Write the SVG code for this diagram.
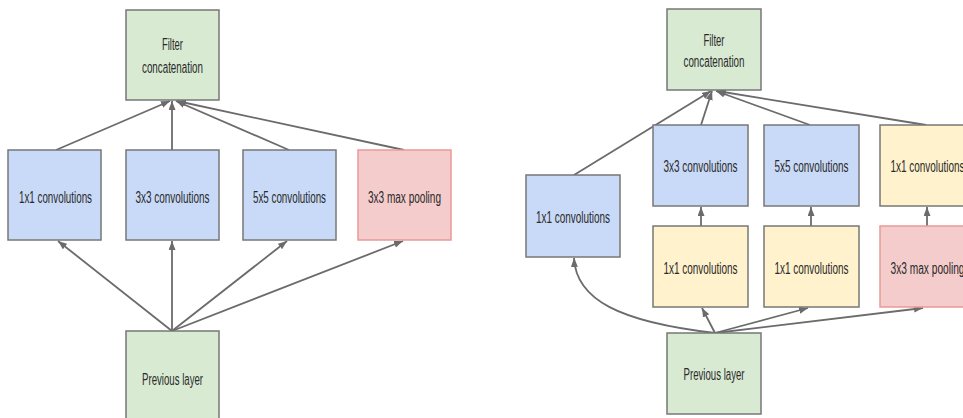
<svg xmlns="http://www.w3.org/2000/svg" width="963" height="418" viewBox="0 0 963 418">
<style>
.box{stroke:#777;stroke-width:1.5}
.g{fill:#d9ead3}.b{fill:#c9daf8}.y{fill:#fff2cc}.p{fill:#f4cccc;stroke:#ea9999}
text{font-family:"Liberation Sans",Arial,sans-serif;font-size:16px;fill:#2a2a2a;text-anchor:middle}
.c path{fill:none;stroke:#6b6b6b;stroke-width:1.8}
</style>
<defs>
<marker id="ah" markerUnits="userSpaceOnUse" markerWidth="10" markerHeight="8" refX="9" refY="3.5" orient="auto">
<path d="M0,0 L9,3.5 L0,7 z" fill="#6b6b6b"/>
</marker>
</defs>
<g class="c">
<path d="M56,150 L170,101" marker-end="url(#ah)"/>
<path d="M172,150 L172,101" marker-end="url(#ah)"/>
<path d="M289,150 L176,101" marker-end="url(#ah)"/>
<path d="M404,150 L177,101" marker-end="url(#ah)"/>
<path d="M172,331 L58,241" marker-end="url(#ah)"/>
<path d="M172,331 L172,241" marker-end="url(#ah)"/>
<path d="M172,331 L287,241" marker-end="url(#ah)"/>
<path d="M172,331 L403,241" marker-end="url(#ah)"/>
<path d="M574,175 L711,91" marker-end="url(#ah)"/>
<path d="M701,125 L712,91" marker-end="url(#ah)"/>
<path d="M810,125 L716,91" marker-end="url(#ah)"/>
<path d="M926,125 L717,91" marker-end="url(#ah)"/>
<path d="M701,226 L701,207" marker-end="url(#ah)"/>
<path d="M811,226 L811,207" marker-end="url(#ah)"/>
<path d="M927,226 L927,207" marker-end="url(#ah)"/>
<path d="M715,333 C620,322 576,300 574,258" marker-end="url(#ah)"/>
<path d="M715,333 L702,308" marker-end="url(#ah)"/>
<path d="M715,333 L808,308" marker-end="url(#ah)"/>
<path d="M715,333 L923,308" marker-end="url(#ah)"/>
</g>
<g id="l-concat"><rect class="box g" x="126" y="10" width="93" height="90"/><text x="172.5" y="50" textLength="21" lengthAdjust="spacingAndGlyphs">Filter</text><text x="172.5" y="73" textLength="61" lengthAdjust="spacingAndGlyphs">concatenation</text></g>
<g id="l-conv1"><rect class="box b" x="8" y="150" width="93" height="90"/><text x="55.5" y="203" textLength="73" lengthAdjust="spacingAndGlyphs">1x1 convolutions</text></g>
<g id="l-conv3"><rect class="box b" x="126" y="150" width="93" height="90"/><text x="172.5" y="203" textLength="74" lengthAdjust="spacingAndGlyphs">3x3 convolutions</text></g>
<g id="l-conv5"><rect class="box b" x="243" y="150" width="93" height="90"/><text x="289.5" y="203" textLength="73" lengthAdjust="spacingAndGlyphs">5x5 convolutions</text></g>
<g id="l-pool"><rect class="box p" x="358" y="150" width="93" height="90"/><text x="404.5" y="203" textLength="73" lengthAdjust="spacingAndGlyphs">3x3 max pooling</text></g>
<g id="l-prev"><rect class="box g" x="126" y="331" width="93" height="95"/><text x="172.5" y="385" textLength="61" lengthAdjust="spacingAndGlyphs">Previous layer</text></g>
<g id="r-concat"><rect class="box g" x="667" y="9" width="94" height="81"/><text x="714" y="46" textLength="21" lengthAdjust="spacingAndGlyphs">Filter</text><text x="714" y="67" textLength="61" lengthAdjust="spacingAndGlyphs">concatenation</text></g>
<g id="r-conv1"><rect class="box b" x="526" y="175" width="94" height="82"/><text x="573" y="223" textLength="74" lengthAdjust="spacingAndGlyphs">1x1 convolutions</text></g>
<g id="r-conv3"><rect class="box b" x="653" y="125" width="95" height="81"/><text x="700.5" y="172" textLength="74" lengthAdjust="spacingAndGlyphs">3x3 convolutions</text></g>
<g id="r-conv5"><rect class="box b" x="764" y="125" width="95" height="81"/><text x="811.5" y="172" textLength="74" lengthAdjust="spacingAndGlyphs">5x5 convolutions</text></g>
<g id="r-conv1c"><rect class="box y" x="880" y="125" width="95" height="81"/><text x="927.5" y="172" textLength="74" lengthAdjust="spacingAndGlyphs">1x1 convolutions</text></g>
<g id="r-red3"><rect class="box y" x="653" y="226" width="95" height="81"/><text x="700.5" y="274" textLength="74" lengthAdjust="spacingAndGlyphs">1x1 convolutions</text></g>
<g id="r-red5"><rect class="box y" x="764" y="226" width="95" height="81"/><text x="811.5" y="274" textLength="74" lengthAdjust="spacingAndGlyphs">1x1 convolutions</text></g>
<g id="r-pool"><rect class="box p" x="880" y="226" width="95" height="81"/><text x="927.5" y="274" textLength="74" lengthAdjust="spacingAndGlyphs">3x3 max pooling</text></g>
<g id="r-prev"><rect class="box g" x="667" y="333" width="94" height="81"/><text x="714" y="380" textLength="61" lengthAdjust="spacingAndGlyphs">Previous layer</text></g>
</svg>
